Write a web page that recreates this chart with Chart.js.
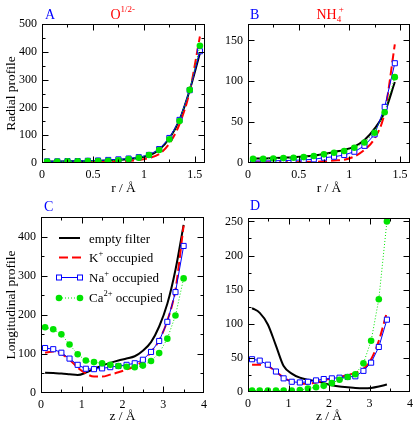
<!DOCTYPE html>
<html>
<head>
<meta charset="utf-8">
<script src="https://cdn.jsdelivr.net/npm/chart.js@4.4.1/dist/chart.umd.min.js"></script>
<style>
  html, body { margin: 0; padding: 0; background: #fff; }
  #wrap { position: relative; width: 415px; height: 423px; }
  #wrap canvas { position: absolute; left: 0; top: 0; }
</style>
</head>
<body>
<div id="wrap">
  <canvas id="pa" width="415" height="423"></canvas>
  <canvas id="pb" width="415" height="423"></canvas>
  <canvas id="pc" width="415" height="423"></canvas>
  <canvas id="pd" width="415" height="423"></canvas>
</div>
<script>
// panel A - radial profile, O 1/2-
var rA = [0.05, 0.15, 0.25, 0.35, 0.45, 0.55, 0.65, 0.75, 0.85, 0.95, 1.05, 1.15, 1.25, 1.35, 1.45, 1.55];
var emptyA = [5, 5, 6, 6, 7, 8, 9, 11, 14, 19, 27, 48, 88, 155, 262, 395];
var kA = [2, 2, 2, 3, 3, 4, 5, 6, 8, 11, 18, 32, 70, 140, 258, 455];
var naA = [6, 6, 7, 7, 8, 9, 11, 13, 16, 21, 29, 50, 90, 155, 262, 402];
var caA = [5, 5, 6, 6, 7, 7, 8, 10, 14, 19, 29, 47, 85, 151, 263, 422];

// panel B - radial profile, NH4+
var rB = [0.05, 0.15, 0.25, 0.35, 0.45, 0.55, 0.65, 0.75, 0.85, 0.95, 1.05, 1.15, 1.25, 1.35, 1.45];
var emptyB = [5.5, 5.5, 6, 6.5, 7, 8, 9, 11, 13.5, 16, 20, 28, 42, 62, 99];
var kB = [1, 1, 1, 1, 1, 1.2, 1.5, 2, 3, 4, 8, 16, 30, 62, 145];
var naB = [2.5, 2.5, 2.7, 3, 3.3, 3.8, 4.5, 6.5, 7.7, 9.8, 13.8, 21, 35, 68.6, 122];
var caB = [5, 5, 5.5, 6, 6.5, 7.2, 8.5, 10.6, 12.6, 14.6, 18.7, 25, 37, 62, 105];

// panel C - longitudinal profile, O 1/2-
var zC = [0.1, 0.3, 0.5, 0.7, 0.9, 1.1, 1.3, 1.5, 1.7, 1.9, 2.1, 2.3, 2.5, 2.7, 2.9, 3.1, 3.3, 3.5];
var emptyC = [52, 51, 50, 48, 46, 52, 62, 70, 77, 83, 88, 94, 108, 130, 170, 228, 315, 430];
var kC = [103, 106, 100, 85, 65, 50, 42, 42, 47, 53, 60, 68, 82, 105, 135, 185, 265, 428];
var naC = [115, 112, 103, 88, 72, 62, 61, 63, 66, 69, 72, 76, 85, 105, 133, 182, 258, 376];
var caC = [168, 163, 150, 124, 99, 83, 79, 76, 72, 69, 67, 66, 70, 82, 102, 139, 198, 293];

// panel D - longitudinal profile, NH4+
var zD = [0.1, 0.29, 0.49, 0.69, 0.88, 1.08, 1.28, 1.48, 1.68, 1.87, 2.07, 2.26, 2.46, 2.65, 2.85, 3.04, 3.23, 3.43];
var emptyD = [123, 116, 99, 68, 38, 27, 21, 18, 16, 13, 10, 8, 7, 6, 5.5, 6, 8, 11];
var kD = [40, 40, 38, 30, 21, 15, 12, 12, 14, 17, 20, 22, 25, 28, 34, 48, 75, 117];
var naD = [48, 46, 40, 30, 20, 15, 14, 15, 17, 19, 20, 21, 22, 23, 31, 43, 66, 106];
var caD = [2, 2, 2, 2, 2, 2, 3, 5, 7, 9, 13, 18, 22, 26, 42, 75, 136, 250];

var SERIF = '"Liberation Serif", "Times New Roman", serif';
var BLUE = '#0000ff', RED = '#ff0000', GREEN = '#00e400';
var W = 415, H = 423, YW = 40, XH = 22;

function pts(xs, ys) {
  return xs.map(function (x, i) { return { x: x, y: ys[i] }; });
}

function makeSets(xs, e, k, na, ca) {
  return [
    { data: pts(xs, e), showLine: true, borderColor: '#000', borderWidth: 2, pointRadius: 0,
      cubicInterpolationMode: 'monotone', order: 4 },
    { data: pts(xs, k), showLine: true, borderColor: RED, borderWidth: 2, borderDash: [9, 4],
      pointRadius: 0, cubicInterpolationMode: 'monotone', order: 3 },
    { data: pts(xs, na), showLine: true, borderColor: BLUE, borderWidth: 1, pointStyle: 'rect',
      pointRadius: 3.6, pointBorderWidth: 1, pointBorderColor: BLUE, pointBackgroundColor: '#fff', order: 2 },
    { data: pts(xs, ca), showLine: true, borderColor: GREEN, borderWidth: 1, borderDash: [1, 2],
      pointRadius: 3.3, pointBorderWidth: 0, pointBackgroundColor: GREEN, order: 1 }
  ];
}

// keep only ticks on the step grid
function keepSteps(step) {
  return function (scale) {
    scale.ticks = scale.ticks.filter(function (t) {
      var q = t.value / step;
      return Math.abs(q - Math.round(q)) < 1e-6;
    });
  };
}

function fmt(v) {
  return String(Math.round(v * 100) / 100);
}

// frame + inward major/minor ticks on all four sides
var frame = {
  id: 'frame',
  afterDatasetsDraw: function (chart) {
    var ctx = chart.ctx, a = chart.chartArea, sx = chart.scales.x, sy = chart.scales.y;
    var L = Math.round(a.left) + 0.5, R = Math.round(a.right) - 0.5;
    var T = Math.round(a.top) + 0.5, B = Math.round(a.bottom) - 0.5;
    ctx.save();
    ctx.strokeStyle = '#000';
    ctx.lineWidth = 1;
    ctx.beginPath();
    var k, v, p, len, half;
    half = sx.options.ticks.stepSize / 2;
    for (k = 1; k * half < sx.max - 1e-9; k++) {
      v = k * half;
      p = Math.round(sx.getPixelForValue(v)) + 0.5;
      len = k % 2 === 0 ? 6 : 3;
      ctx.moveTo(p, B); ctx.lineTo(p, B - len);
      ctx.moveTo(p, T); ctx.lineTo(p, T + len);
    }
    half = sy.options.ticks.stepSize / 2;
    for (k = 1; k * half < sy.max - 1e-9; k++) {
      v = k * half;
      p = Math.round(sy.getPixelForValue(v)) + 0.5;
      len = k % 2 === 0 ? 6 : 3;
      ctx.moveTo(L, p); ctx.lineTo(L + len, p);
      ctx.moveTo(R, p); ctx.lineTo(R - len, p);
    }
    ctx.stroke();
    ctx.strokeRect(L, T, R - L, B - T);
    ctx.restore();
  }
};

// text with super/subscripts: parts = [text, size, dy, advance]
function rich(ctx, x, y, parts, color, align) {
  var w = 0;
  parts.forEach(function (p) {
    ctx.font = p[1] + 'px ' + SERIF;
    w += ctx.measureText(p[0]).width * (p[3] === undefined ? 1 : p[3]);
  });
  var cx = align === 'center' ? x - w / 2 : x;
  ctx.fillStyle = color;
  ctx.textAlign = 'left';
  ctx.textBaseline = 'alphabetic';
  parts.forEach(function (p) {
    ctx.font = p[1] + 'px ' + SERIF;
    ctx.fillText(p[0], cx, y + (p[2] || 0));
    cx += ctx.measureText(p[0]).width * (p[3] === undefined ? 1 : p[3]);
  });
}

var panelText = {
  id: 'panelText',
  afterDraw: function (chart, args, o) {
    var ctx = chart.ctx, a = chart.chartArea;
    ctx.save();
    rich(ctx, o.letter[1], o.letter[2], [[o.letter[0], 14]], BLUE);
    if (o.title) rich(ctx, o.title.x, o.title.y, o.title.parts, RED);
    rich(ctx, (a.left + a.right) / 2, o.xTitle[1], [[o.xTitle[0], 13.5]], '#000', 'center');
    if (o.yTitle) {
      ctx.translate(o.yTitle[1], (a.top + a.bottom) / 2);
      ctx.rotate(-Math.PI / 2);
      ctx.font = '13.5px ' + SERIF;
      ctx.fillStyle = '#000';
      ctx.textAlign = 'center';
      ctx.textBaseline = 'middle';
      ctx.fillText(o.yTitle[0], 0, 0);
      ctx.setTransform(1, 0, 0, 1, 0, 0);
    }
    if (o.legend) drawLegend(ctx);
    ctx.restore();
  }
};

function drawLegend(ctx) {
  var x0 = 59, x1 = 80, tx = 89;
  var rows = [238, 257.5, 277, 297.5];
  ctx.lineWidth = 2;
  ctx.strokeStyle = '#000';
  ctx.beginPath(); ctx.moveTo(x0, rows[0]); ctx.lineTo(x1, rows[0]); ctx.stroke();
  ctx.strokeStyle = RED;
  ctx.setLineDash([9, 4]);
  ctx.beginPath(); ctx.moveTo(x0, rows[1]); ctx.lineTo(x1 + 1, rows[1]); ctx.stroke();
  ctx.setLineDash([]);
  ctx.lineWidth = 1;
  ctx.strokeStyle = BLUE;
  ctx.beginPath(); ctx.moveTo(x0, rows[2] + 0.5); ctx.lineTo(x1, rows[2] + 0.5); ctx.stroke();
  [x0, x1].forEach(function (x) {
    ctx.fillStyle = '#fff';
    ctx.fillRect(x - 2.5, rows[2] - 2, 5, 5);
    ctx.strokeRect(x - 2.5, rows[2] - 2, 5, 5);
  });
  ctx.strokeStyle = GREEN;
  ctx.setLineDash([1, 2]);
  ctx.beginPath(); ctx.moveTo(x0, rows[3] + 0.5); ctx.lineTo(x1, rows[3] + 0.5); ctx.stroke();
  ctx.setLineDash([]);
  ctx.fillStyle = GREEN;
  [x0, x1].forEach(function (x) {
    ctx.beginPath(); ctx.arc(x, rows[3] + 0.5, 3.3, 0, Math.PI * 2); ctx.fill();
  });
  var s = 13, b = 4.5;
  rich(ctx, tx, rows[0] + b, [['empty filter', s]], '#000');
  rich(ctx, tx, rows[1] + b, [['K', s], ['+', 8.5, -6], [' occupied', s]], '#000');
  rich(ctx, tx, rows[2] + b, [['Na', s], ['+', 8.5, -6], [' occupied', s]], '#000');
  rich(ctx, tx, rows[3] + b, [['Ca', s], ['2+', 8.5, -6], [' occupied', s]], '#000');
}

function panel(id, box, xr, yr, sets, text) {
  var tickFont = { family: SERIF, size: 12 };
  return new Chart(document.getElementById(id), {
    type: 'scatter',
    data: { datasets: sets },
    options: {
      responsive: false,
      animation: false,
      events: [],
      layout: { padding: { left: box[0] - YW, top: box[1], right: W - box[2], bottom: H - box[3] - XH } },
      plugins: { legend: { display: false }, tooltip: { enabled: false }, panelText: text },
      scales: {
        x: {
          type: 'linear', min: xr[0], max: xr[1],
          grid: { display: false, drawTicks: false }, border: { display: false },
          ticks: { stepSize: xr[2], includeBounds: false, padding: 5, color: '#000', font: tickFont,
                   autoSkip: false, maxRotation: 0, callback: fmt },
          afterBuildTicks: keepSteps(xr[2]),
          afterFit: function (s) { s.height = XH; s.paddingLeft = 0; s.paddingRight = 0; }
        },
        y: {
          type: 'linear', min: yr[0], max: yr[1],
          grid: { display: false, drawTicks: false }, border: { display: false },
          ticks: { stepSize: yr[2], includeBounds: false, padding: 5, color: '#000', font: tickFont,
                   autoSkip: false, callback: fmt },
          afterBuildTicks: keepSteps(yr[2]),
          afterFit: function (s) { s.width = YW; s.paddingTop = 0; s.paddingBottom = 0; }
        }
      }
    },
    plugins: [frame, panelText]
  });
}

panel('pa', [42, 24, 205, 163], [0, 1.6, 0.5], [0, 500, 100], makeSets(rA, emptyA, kA, naA, caA), {
  letter: ['A', 45, 19],
  title: { x: 110.5, y: 19, parts: [['O', 14], ['1/2-', 9, -7]] },
  xTitle: ['r / Å', 192],
  yTitle: ['Radial profile', 11]
});

panel('pb', [248, 24, 413, 163], [0, 1.6, 0.5], [0, 170, 50], makeSets(rB, emptyB, kB, naB, caB), {
  letter: ['B', 250, 19],
  title: { x: 316.5, y: 19, parts: [['NH', 14], ['4', 9, 3, 0.45], ['+', 9, -7]] },
  xTitle: ['r / Å', 192]
});

panel('pc', [41, 217, 204, 393], [0, 4, 1], [0, 450, 100], makeSets(zC, emptyC, kC, naC, caC), {
  letter: ['C', 44, 210.5],
  xTitle: ['z / Å', 420],
  yTitle: ['Longitudinal profile', 11],
  legend: true
});

panel('pd', [248, 218, 411, 392], [0, 4, 1], [0, 255, 50], makeSets(zD, emptyD, kD, naD, caD), {
  letter: ['D', 250, 209.5],
  xTitle: ['z / Å', 420]
});
</script>
</body>
</html>
